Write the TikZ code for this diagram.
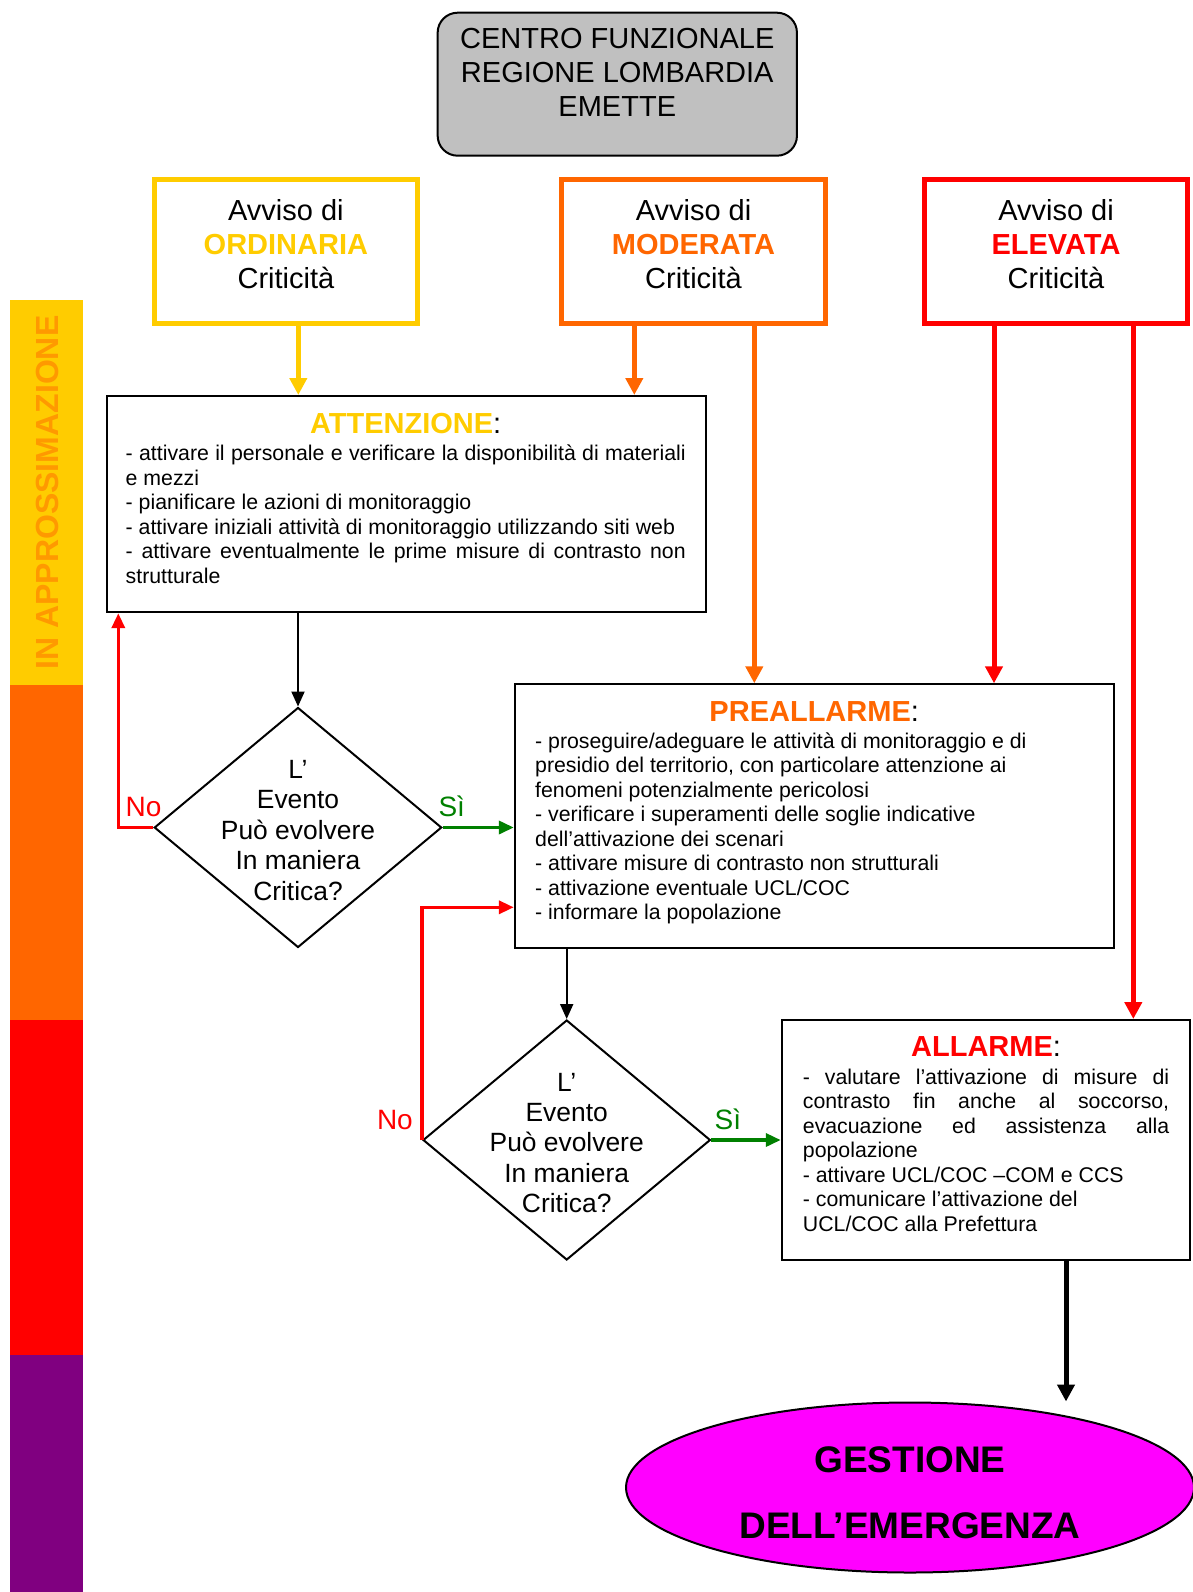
\documentclass[tikz,border=0pt]{standalone}
\usepackage{fontspec}
\setmainfont{Liberation Sans}
\usetikzlibrary{arrows.meta,shapes.geometric}

\definecolor{ordyel}{HTML}{FFCC00}
\definecolor{modora}{HTML}{FF6600}
\definecolor{elered}{HTML}{FF0000}
\definecolor{sigreen}{HTML}{008000}
\definecolor{approxor}{HTML}{FF9900}
\definecolor{emerg}{HTML}{FF00FF}
\definecolor{phasepur}{HTML}{800080}
\definecolor{cfgray}{HTML}{C0C0C0}

\newcommand{\titlef}{\fontsize{29}{33.5}\selectfont\bfseries}
\newcommand{\bodyf}{\fontsize{21.3}{24.5}\selectfont}
\newcommand{\natsp}{\spaceskip=0pt\xspaceskip=0pt\relax}
\newcommand{\jline}[1]{\makebox[\linewidth][s]{#1}}
\newcommand{\evq}{\smash{\raisebox{-12pt}{\begin{tabular}{@{}c@{}}L’\\Evento\\Può evolvere\\In maniera\\Critica?\end{tabular}}}}

\tikzset{
    flow/.style={line width=5pt, -{Triangle[length=17pt, width=17pt]}},
    branch/.style={line width=3.5pt, -{Triangle[length=15pt, width=13pt]}},
    plain/.style={line width=2pt, -{Triangle[length=15pt, width=13pt]}}
}

\begin{document}
\begin{tikzpicture}[
            x=1pt, y=-1pt,
            avviso/.style={draw=#1, line width=5pt, minimum width=263.3pt, minimum height=143.4pt, inner sep=0pt},
            avvtxt/.style={align=center, inner sep=0pt, font=\fontsize{29}{34}\selectfont},
            azione/.style={draw, line width=2pt, inner sep=0pt},
            blocktxt/.style={text width=#1, align=left, inner sep=0pt, anchor=base west, font=\bodyf},
            decide/.style={diamond, draw, line width=2pt, minimum width=287.4pt, minimum height=240pt, inner sep=0pt, font=\fontsize{26.4}{30.4}\selectfont},
            answer/.style={inner sep=0pt, font=\fontsize{28}{32}\selectfont}
        ]
            \useasboundingbox (0,0) rectangle (1193,1592);

            % Phase bar
            \fill[ordyel] (10,300) rectangle (82.7,685);
            \fill[modora] (10,685) rectangle (82.7,1020.4);
            \fill[elered] (10,1020.4) rectangle (82.7,1355.4);
            \fill[phasepur] (10,1355.4) rectangle (82.7,1592);
            \node[rotate=90, inner sep=0pt, text=approxor, font=\fontsize{32}{36}\selectfont\bfseries] (approx) at (47.5,492.5) {IN APPROSSIMAZIONE};

            % Centro Funzionale
            \node[draw, line width=2pt, rounded corners=20pt, fill=cfgray, minimum width=359.3pt, minimum height=143pt] (cf) at (617.3,84.2) {};
            \node[avvtxt] (cftxt) at ([yshift=12.1pt]cf.center) {CENTRO FUNZIONALE\\REGIONE LOMBARDIA\\EMETTE};

            % Avvisi
            \node[avviso=ordyel] (ord) at (285.9,251.5) {};
            \node[avvtxt] (ordtxt) at ([yshift=7.7pt]ord.center) {Avviso di\\{\bfseries\color{ordyel}ORDINARIA}\\Criticità};
            \node[avviso=modora] (mod) at (693.5,251.5) {};
            \node[avvtxt] (modtxt) at ([yshift=7.7pt]mod.center) {Avviso di\\{\bfseries\color{modora}MODERATA}\\Criticità};
            \node[avviso=elered] (ele) at (1056,251.5) {};
            \node[avvtxt] (eletxt) at ([yshift=7.7pt]ele.center) {Avviso di\\{\bfseries\color{elered}ELEVATA}\\Criticità};

            % Attenzione
            \node[azione, minimum width=599pt, minimum height=216.2pt] (att) at (406.1,504.1) {};
            \node[blocktxt=560pt] (atttxt) at (125.5,433.5) {\natsp
                \makebox[\linewidth]{{\titlef\color{ordyel}ATTENZIONE}{\fontsize{29}{33.5}\selectfont :}}\\[2.8pt]
                \jline{- attivare il personale e verificare la disponibilità di materiali}\\
                e mezzi\\
                - pianificare le azioni di monitoraggio\\
                - attivare iniziali attività di monitoraggio utilizzando siti web\\
                \jline{- attivare eventualmente le prime misure di contrasto non}\\
                strutturale};

            % Preallarme
            \node[azione, minimum width=599pt, minimum height=264pt] (pre) at (814.3,816.3) {};
            \node[blocktxt=558pt] (pretxt) at (535,721.1) {\natsp
                \makebox[\linewidth]{{\titlef\color{modora}PREALLARME}{\fontsize{29}{33.5}\selectfont :}}\\[2.8pt]
                - proseguire/adeguare le attività di monitoraggio e di\\
                presidio del territorio, con particolare attenzione ai\\
                fenomeni potenzialmente pericolosi\\
                - verificare i superamenti delle soglie indicative\\
                dell’attivazione dei scenari\\
                - attivare misure di contrasto non strutturali\\
                - attivazione eventuale UCL/COC\\
                - informare la popolazione};

            % Allarme
            \node[azione, minimum width=408.3pt, minimum height=240pt] (all) at (985.9,1140) {};
            \node[blocktxt=366.3pt] (alltxt) at (802.7,1056.7) {\natsp
                \makebox[\linewidth]{{\titlef\color{elered}ALLARME}{\fontsize{29}{33.5}\selectfont :}}\\[2.8pt]
                \jline{- valutare l’attivazione di misure di}\\
                \jline{contrasto fin anche al soccorso,}\\
                \jline{evacuazione ed assistenza alla}\\
                popolazione\\
                - attivare UCL/COC –COM e CCS\\
                - comunicare l’attivazione del\\
                UCL/COC alla Prefettura};

            % Decisions
            \node[decide] (dec1) at (298,827.5) {\evq};
            \node[decide] (dec2) at (566.7,1140) {\evq};

            % Gestione
            \node[ellipse, draw, line width=2pt, fill=emerg, minimum width=568pt, minimum height=170pt, align=center, font=\fontsize{37}{66}\selectfont\bfseries] (ges) at (910,1487.5) {\rule{0pt}{37pt}GESTIONE\\DELL’EMERGENZA};

            % Warnings to phases
            \draw[flow, ordyel] ([xshift=12.4pt]ord.south) -- ([xshift=12.4pt]ord.south |- att.north);
            \draw[flow, modora] ([xshift=-59.2pt]mod.south) -- ([xshift=-59.2pt]mod.south |- att.north);
            \draw[flow, modora] ([xshift=60.8pt]mod.south) -- ([xshift=60.8pt]mod.south |- pre.north);
            \draw[flow, elered] ([xshift=-62pt]ele.south) -- ([xshift=-62pt]ele.south |- pre.north);
            \draw[flow, elered] ([xshift=77.3pt]ele.south) -- ([xshift=77.3pt]ele.south |- all.north);

            % Evaluation loops
            \draw[plain] (att.south -| dec1.north) -- (dec1.north);
            \draw[branch, sigreen] (dec1.east) -- (dec1.east -| pre.west);
            \draw[branch, elered] (dec1.west) -| ([xshift=12.7pt]att.south west);
            \draw[plain] (pre.south -| dec2.north) -- (dec2.north);
            \draw[branch, sigreen] (dec2.east) -- (dec2.east -| all.west);
            \draw[branch, elered] (dec2.west) |- ([yshift=42pt]pre.south west);
            \draw[flow] ([xshift=80.1pt]all.south) -- ([xshift=80.1pt]all.south |- ges.north);

            \node[answer, text=elered, anchor=base east] (no1) at ([xshift=8.4pt, yshift=11.3pt]dec1.west) {No};
            \node[answer, text=sigreen, anchor=base west] (si1) at ([xshift=-4.4pt, yshift=11.3pt]dec1.east) {Sì};
            \node[answer, text=elered, anchor=base east] (no2) at ([xshift=-9pt, yshift=10.7pt]dec2.west) {No};
            \node[answer, text=sigreen, anchor=base west] (si2) at ([xshift=3pt, yshift=10.7pt]dec2.east) {Sì};

\end{tikzpicture}
\end{document}
